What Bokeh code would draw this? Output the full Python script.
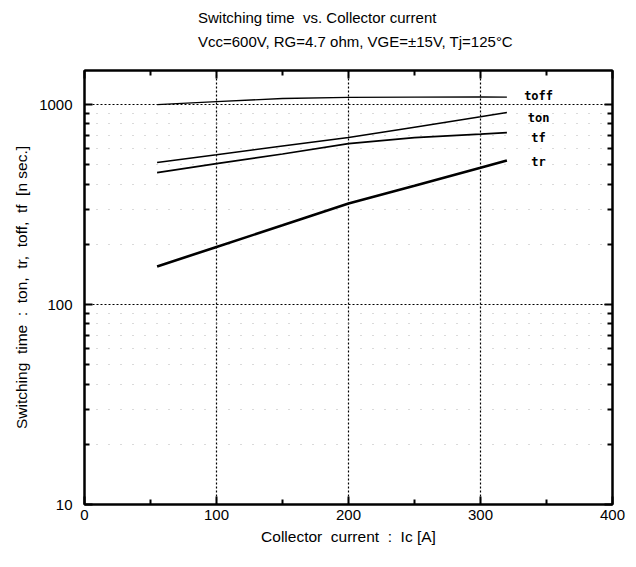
from bokeh.plotting import figure
from bokeh.layouts import column
from bokeh.models import (FixedTicker, PrintfTickFormatter, LinearAxis, LogAxis,
                          Div, Range1d, ColumnDataSource, CustomJSTickFormatter)
from bokeh.core.properties import value
from bokeh.embed import file_html
from bokeh.resources import INLINE

# ---- data ----
ic = [55, 100, 150, 200, 250, 300, 320]
toff = [1000, 1035, 1072, 1085, 1090, 1092, 1090]
ton = [513, 561, 620, 684, 771, 869, 912]
tf = [457, 507, 566, 638, 684, 711, 724]
tr = [155, 194, 249, 320, 393, 483, 525]

label_names = ["toff", "ton", "tf", "tr"]
label_x = [344, 344, 344, 344]
label_y = [1109, 861, 684, 519]

x_ticks = [0, 100, 200, 300, 400]
x_minor = [50, 150, 250, 350]
y_ticks = [10, 100, 1000]
y_minor = [20, 30, 40, 50, 60, 70, 80, 90, 200, 300, 400, 500, 600, 700, 800, 900]

title_1 = "Switching time &nbsp;vs. Collector current"
title_2 = "Vcc=600V, RG=4.7 ohm, VGE=\u00b115V, Tj=125\u00b0C"

FONT = "Liberation Sans"
NB = "\u00a0"

p = figure(width=628, height=505, y_axis_type="log",
           x_range=Range1d(0, 400), y_range=Range1d(10, 1480),
           output_backend="svg", toolbar_location=None, title_location=None,
           min_border_left=84, min_border_right=16,
           min_border_top=10, min_border_bottom=61)

p.outline_line_color = "black"
p.outline_line_width = 2
p.background_fill_color = "white"
p.border_fill_color = "white"

xt = FixedTicker(ticks=x_ticks, minor_ticks=x_minor)
yt = FixedTicker(ticks=y_ticks, minor_ticks=y_minor)
for ax in p.xaxis:
    ax.ticker = xt
    ax.axis_label = ("Collector" + NB + " current" + NB + " :" + NB + " Ic [A]")
for ax in p.yaxis:
    ax.ticker = yt
    ax.formatter = PrintfTickFormatter(format="%d")
    ax.axis_label = ("Switching" + NB + " time" + NB + " :" + NB + " ton," + NB +
                     " tr," + NB + " toff," + NB + " tf" + NB + " [n sec.]")

blank = CustomJSTickFormatter(code="return ''")
right = LogAxis(ticker=yt, formatter=blank)
top = LinearAxis(ticker=xt, formatter=blank)
p.add_layout(right, "right")
p.add_layout(top, "above")

for ax in p.xaxis + p.yaxis:
    ax.axis_line_color = "black"
    ax.axis_line_width = 2
    ax.major_tick_in = 8
    ax.major_tick_out = 0
    ax.minor_tick_in = 5
    ax.minor_tick_out = 0
    ax.major_tick_line_width = 2
    ax.minor_tick_line_width = 2
    ax.major_label_text_font = FONT
    ax.major_label_text_font_size = "15px"
    ax.major_label_text_color = "black"
    ax.axis_label_text_font = FONT
    ax.axis_label_text_font_size = "15.5px"
    ax.axis_label_text_font_style = "normal"
    ax.axis_label_text_color = "black"

p.xaxis[0].major_label_standoff = 19
p.xaxis[0].axis_label_standoff = 22
p.yaxis[0].major_label_standoff = 12
p.yaxis[0].axis_label_standoff = 6
right.major_label_standoff = 0
top.major_label_standoff = 0

# grids
p.xgrid.ticker = FixedTicker(ticks=[100, 200, 300])
p.ygrid.ticker = FixedTicker(ticks=[100, 1000], minor_ticks=y_minor)
for g in p.xgrid + p.ygrid:
    g.grid_line_color = "black"
    g.grid_line_dash = "2 2"
    g.grid_line_width = 1.2
p.ygrid.minor_grid_line_color = "#b5b5b5"
p.ygrid.minor_grid_line_dash = "1 11"
p.ygrid.minor_grid_line_width = 1

# curves
p.line(ic, toff, line_color="black", line_width=1.3)
p.line(ic, ton, line_color="black", line_width=1.5)
p.line(ic, tf, line_color="black", line_width=1.7)
p.line(ic, tr, line_color="black", line_width=2.6)

src = ColumnDataSource(dict(x=label_x, y=label_y, t=label_names))
p.text(x="x", y="y", text="t", source=src, text_align="center",
       text_baseline="middle", text_font=value("DejaVu Sans Mono"),
       text_font_style="bold", text_font_size="12px", text_color="black")

# titles as a header block above the figure
header = Div(
    text=('<div style="padding-top:6px; padding-left:198px; '
          'font-family:\'Liberation Sans\'; font-size:15px; line-height:24px; '
          'color:black; white-space:nowrap;">'
          + title_1 + '<br>' + title_2 + '</div>'),
    width=628, height=60, margin=(0, 0, 0, 0))
p.margin = (0, 0, 0, 0)

layout = column(header, p, spacing=0)

open("out.html", "w").write(file_html(layout, INLINE))
